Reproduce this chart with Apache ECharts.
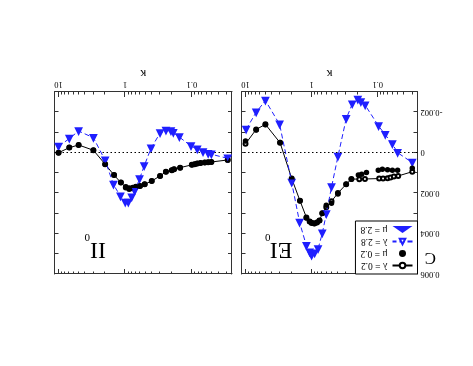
<!DOCTYPE html>
<html>
<head>
<meta charset="utf-8">
<script src="https://cdn.jsdelivr.net/npm/echarts@6/dist/echarts.min.js"></script>
<style>
  html, body { margin: 0; padding: 0; background: #fff; }
  /* the reference figure is printed upside down */
  #main { width: 473px; height: 366px; transform: rotate(180deg); }
</style>
</head>
<body>
<div id="main"></div>
<script>
var FONT = '"Liberation Serif", "DejaVu Serif", serif';
var BLUE = '#1f1fff';

// axes
var kappaRange = [0.025, 11.5];
var kappaTicks = [0.1, 1, 10];
var cRange = [-0.003, 0.006];
var cTicks = [-0.002, 0, 0.002, 0.004, 0.006];

// EI_0 panel
var eiLam02K = [10, 6.9, 5.0, 3.0, 2.0, 1.5, 1.2, 1.07, 1.0, 0.91, 0.83, 0.76, 0.69, 0.6, 0.5, 0.4, 0.3, 0.25, 0.19, 0.156, 0.095, 0.083, 0.071, 0.064, 0.057, 0.049, 0.03];
var eiLam02C = [-0.00044, -0.00115, -0.0014, -0.00049, 0.00128, 0.00238, 0.0032, 0.0034, 0.00348, 0.0035, 0.00345, 0.00336, 0.003, 0.0027, 0.0024, 0.002, 0.00156, 0.0013, 0.00131, 0.0013, 0.00128, 0.00128, 0.00126, 0.00123, 0.00118, 0.00115, 0.00094];
var eiMu02K = [10, 6.9, 5.0, 3.0, 2.0, 1.5, 1.2, 1.07, 1.0, 0.91, 0.83, 0.76, 0.69, 0.6, 0.5, 0.4, 0.3, 0.25, 0.196, 0.175, 0.148, 0.098, 0.085, 0.071, 0.06, 0.05, 0.03];
var eiMu02C = [-0.00058, -0.00112, -0.00138, -0.0005, 0.00131, 0.00238, 0.00323, 0.0034, 0.00345, 0.0035, 0.00345, 0.00336, 0.003, 0.0026, 0.0025, 0.00205, 0.00156, 0.00131, 0.00111, 0.00107, 0.00098, 0.00087, 0.00082, 0.00084, 0.00087, 0.00087, 0.00077];
var eiLam28K = [9.8, 6.9, 5.0, 3.05, 2.0, 1.52, 1.2, 1.07, 1.0, 0.9, 0.8, 0.69, 0.6, 0.5, 0.4, 0.3, 0.243, 0.2, 0.18, 0.155, 0.097, 0.077, 0.06, 0.05, 0.03];
var eiLam28C = [-0.00115, -0.002, -0.00258, -0.0014, 0.00148, 0.00345, 0.0046, 0.00493, 0.00509, 0.00498, 0.00476, 0.00399, 0.00303, 0.0017, 0.00019, -0.00168, -0.0024, -0.00263, -0.00251, -0.00235, -0.00132, -0.00089, -0.00043, 0.0, 0.00049];
var eiMu28K = [9.8, 6.9, 5.0, 3.05, 2.0, 1.52, 1.2, 1.07, 1.0, 0.9, 0.8, 0.69, 0.6, 0.5, 0.4, 0.3, 0.243, 0.2, 0.18, 0.155, 0.097, 0.077, 0.06, 0.05, 0.03];
var eiMu28C = [-0.00115, -0.002, -0.00258, -0.0014, 0.00148, 0.00345, 0.0046, 0.00493, 0.00509, 0.00498, 0.00476, 0.00399, 0.00303, 0.0017, 0.00019, -0.00168, -0.0024, -0.00263, -0.00251, -0.00235, -0.00132, -0.00089, -0.00043, 0.0, 0.00049];

// II_0 panel
var iiLam02K = [10, 6.9, 5.0, 3.0, 2.0, 1.47, 1.16, 0.98, 0.87, 0.77, 0.69, 0.6, 0.51, 0.4, 0.3, 0.245, 0.2, 0.185, 0.15, 0.1, 0.091, 0.083, 0.074, 0.064, 0.057, 0.051, 0.029];
var iiLam02C = [0.0, -0.00025, -0.00038, -0.00012, 0.00057, 0.00111, 0.00148, 0.00172, 0.0018, 0.00176, 0.00169, 0.00165, 0.00156, 0.0014, 0.00115, 0.00094, 0.00087, 0.00082, 0.00074, 0.0006, 0.00057, 0.00054, 0.00051, 0.00049, 0.00047, 0.00046, 0.00036];
var iiMu02K = [10, 6.9, 5.0, 3.0, 2.0, 1.47, 1.16, 0.98, 0.87, 0.77, 0.69, 0.6, 0.51, 0.4, 0.3, 0.245, 0.2, 0.185, 0.15, 0.1, 0.091, 0.083, 0.074, 0.064, 0.057, 0.051, 0.029];
var iiMu02C = [0.0, -0.00025, -0.00038, -0.00012, 0.00057, 0.00111, 0.00148, 0.00169, 0.00175, 0.00172, 0.00169, 0.00165, 0.00156, 0.0014, 0.00115, 0.00094, 0.00087, 0.00082, 0.00074, 0.0006, 0.00057, 0.00054, 0.00051, 0.00049, 0.00047, 0.00046, 0.00036];
var iiLam28K = [10, 6.9, 5.0, 3.0, 2.0, 1.5, 1.18, 1.0, 0.9, 0.8, 0.72, 0.61, 0.52, 0.41, 0.3, 0.245, 0.206, 0.19, 0.154, 0.103, 0.083, 0.068, 0.057, 0.051, 0.029];
var iiLam28C = [-0.0003, -0.0007, -0.00107, -0.00074, 0.00038, 0.00158, 0.00215, 0.00246, 0.00246, 0.0022, 0.0019, 0.0013, 0.00066, -0.00022, -0.00097, -0.0011, -0.00107, -0.00099, -0.00077, -0.00033, -0.00017, -0.00003, 0.00005, 0.00008, 0.00028];
var iiMu28K = [10, 6.9, 5.0, 3.0, 2.0, 1.5, 1.18, 1.0, 0.9, 0.8, 0.72, 0.61, 0.52, 0.41, 0.3, 0.245, 0.206, 0.19, 0.154, 0.103, 0.083, 0.068, 0.057, 0.051, 0.029];
var iiMu28C = [-0.0003, -0.0007, -0.00107, -0.00074, 0.00038, 0.00158, 0.00215, 0.00246, 0.00246, 0.0022, 0.0019, 0.0013, 0.00066, -0.00022, -0.00097, -0.0011, -0.00107, -0.00099, -0.00077, -0.00033, -0.00017, -0.00003, 0.00005, 0.00008, 0.00028];

var names = ['\u03bb = 0.2', '\u03bc = 0.2', '\u03bb = 2.8', '\u03bc = 2.8'];

// kappa is drawn on a log10 value axis
function pts(k, c) {
  return k.map(function (v, i) { return [Math.log10(v), c[i]]; });
}

var xMin = Math.log10(kappaRange[0]);
var xMax = Math.log10(kappaRange[1]);
var majorX = kappaTicks.map(Math.log10);
var minorX = [];
for (var d = -2; d <= 1; d++) {
  for (var m = 2; m <= 9; m++) {
    var v = m * Math.pow(10, d);
    if (v >= kappaRange[0] && v <= kappaRange[1]) minorX.push(Math.log10(v));
  }
}

var axisColor = '#333';

function xAxes(g) {
  var line = { show: true, onZero: false, lineStyle: { color: axisColor, width: 1 } };
  var noLine = { show: false, onZero: false };
  var base = {
    gridIndex: g, type: 'value', min: xMin, max: xMax,
    splitLine: { show: false }
  };
  return [
    Object.assign({}, base, {
      position: 'bottom', axisLine: line,
      name: '\u03ba', nameLocation: 'middle', nameGap: 12,
      nameTextStyle: { fontFamily: FONT, fontSize: 12, color: '#000' },
      axisTick: { inside: true, length: 5, customValues: majorX, lineStyle: { color: axisColor } },
      axisLabel: {
        customValues: majorX, margin: 3, fontFamily: FONT, fontSize: 8.5, color: '#000',
        formatter: function (v) { return String(+Math.pow(10, v).toPrecision(2)); }
      }
    }),
    Object.assign({}, base, {
      position: 'bottom', axisLine: noLine,
      axisTick: { inside: true, length: 2.5, customValues: minorX, lineStyle: { color: axisColor } },
      axisLabel: { show: false }
    }),
    Object.assign({}, base, {
      position: 'top', axisLine: line,
      axisTick: { inside: true, length: 5, customValues: majorX, lineStyle: { color: axisColor } },
      axisLabel: { show: false }
    }),
    Object.assign({}, base, {
      position: 'top', axisLine: noLine,
      axisTick: { inside: true, length: 2.5, customValues: minorX, lineStyle: { color: axisColor } },
      axisLabel: { show: false }
    })
  ];
}

function yAxes(g, labels) {
  var base = {
    gridIndex: g, type: 'value', min: cRange[0], max: cRange[1], interval: 0.001,
    splitLine: { show: false },
    axisLine: { show: true, onZero: false, lineStyle: { color: axisColor, width: 1 } },
    axisTick: { inside: true, length: 4, lineStyle: { color: axisColor } }
  };
  return [
    Object.assign({}, base, {
      position: 'left',
      axisLabel: labels ? {
        customValues: cTicks, margin: 3, fontFamily: FONT, fontSize: 8.5, color: '#000',
        formatter: function (v) { return v === 0 ? '0' : String(+v.toFixed(3)); }
      } : { show: false }
    }),
    Object.assign({}, base, { position: 'right', axisLabel: { show: false } })
  ];
}

function panelSeries(g, lam02, mu02, lam28, mu28) {
  var xi = g * 4, yi = g * 2;
  return [
    {
      name: names[0], type: 'line', xAxisIndex: xi, yAxisIndex: yi, data: lam02, z: 2,
      symbol: 'emptyCircle', symbolSize: 4, lineStyle: { color: '#000', width: 1 },
      itemStyle: { color: '#000', borderWidth: 1 },
      markLine: {
        silent: true, symbol: 'none', label: { show: false },
        lineStyle: { color: '#000', type: [1.5, 2.5], width: 1 },
        data: [{ yAxis: 0 }]
      }
    },
    {
      name: names[1], type: 'scatter', xAxisIndex: xi, yAxisIndex: yi, data: mu02, z: 4,
      symbol: 'circle', symbolSize: 5.5, itemStyle: { color: '#000', opacity: 1 }
    },
    {
      name: names[2], type: 'line', xAxisIndex: xi, yAxisIndex: yi, data: lam28, z: 3,
      symbol: 'emptyTriangle', symbolSize: 5.5,
      lineStyle: { color: BLUE, width: 1, type: [5, 3] },
      itemStyle: { color: BLUE, borderWidth: 1 }
    },
    {
      name: names[3], type: 'scatter', xAxisIndex: xi, yAxisIndex: yi, data: mu28, z: 5,
      symbol: 'triangle', symbolSize: 6, itemStyle: { color: BLUE, opacity: 1 }
    }
  ];
}

var chart = echarts.init(document.getElementById('main'));

var option = {
  animation: false,
  backgroundColor: '#fff',
  grid: [
    { left: 55.5, top: 92, width: 176, height: 182 },
    { left: 241, top: 92, width: 177.5, height: 182 }
  ],
  xAxis: xAxes(0).concat(xAxes(1)),
  yAxis: yAxes(0, true).concat(yAxes(1, false)),
  legend: {
    data: names, orient: 'vertical', left: 55.5, top: 92, z: 10,
    padding: [3, 5, 3, 4], itemGap: 1, itemWidth: 20, itemHeight: 7,
    backgroundColor: '#fff', borderColor: '#000', borderWidth: 1,
    textStyle: { fontFamily: FONT, fontSize: 9.5, color: '#000', lineHeight: 11 }
  },
  graphic: [
    { type: 'text', left: 180.5, top: 105, style: { text: 'EI', font: '24px ' + FONT, fill: '#000' } },
    { type: 'text', left: 202.5, top: 124, style: { text: '0', font: '11px ' + FONT, fill: '#000' } },
    { type: 'text', left: 367, top: 105, style: { text: 'II', font: '24px ' + FONT, fill: '#000' } },
    { type: 'text', left: 383, top: 124, style: { text: '0', font: '11px ' + FONT, fill: '#000' } },
    { type: 'text', left: 37, top: 100, style: { text: 'C', font: '17px ' + FONT, fill: '#000' } }
  ],
  series: panelSeries(0, pts(eiLam02K, eiLam02C), pts(eiMu02K, eiMu02C), pts(eiLam28K, eiLam28C), pts(eiMu28K, eiMu28C))
    .concat(panelSeries(1, pts(iiLam02K, iiLam02C), pts(iiMu02K, iiMu02C), pts(iiLam28K, iiLam28C), pts(iiMu28K, iiMu28C)))
};

chart.setOption(option);
</script>
</body>
</html>
